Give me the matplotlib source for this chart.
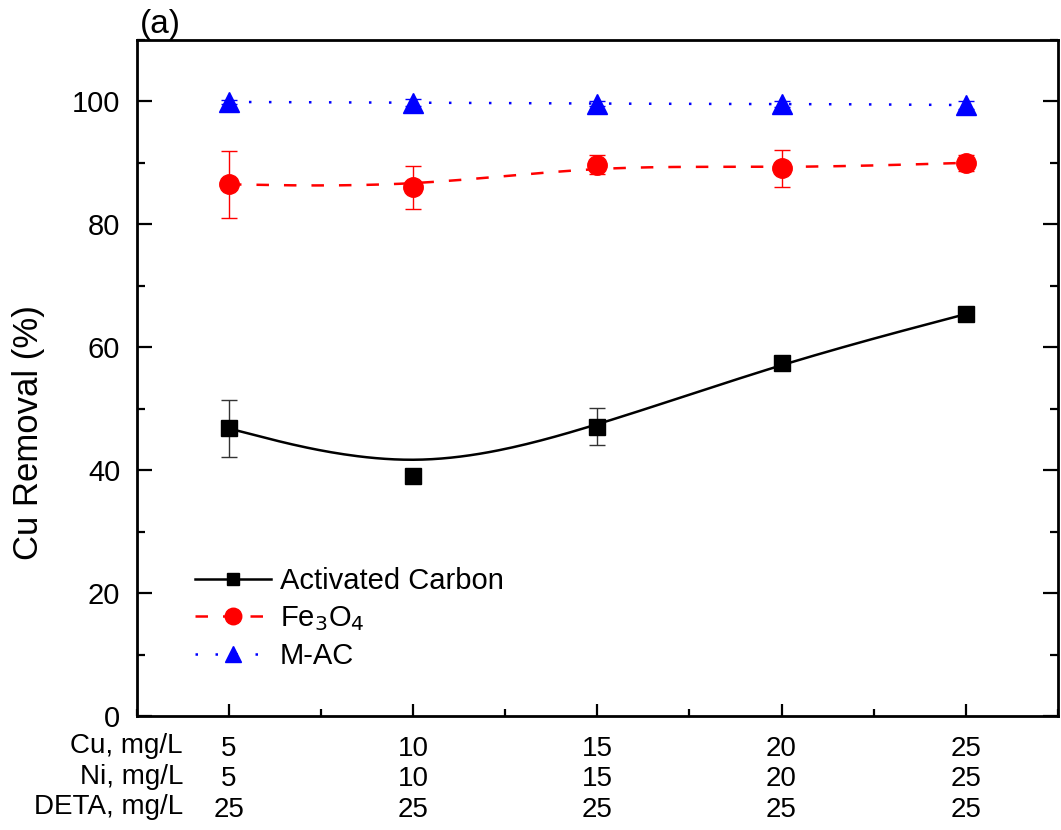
import numpy as np
import matplotlib
matplotlib.use("Agg")
import matplotlib.pyplot as plt
from matplotlib.lines import Line2D
from matplotlib.ticker import MultipleLocator

plt.rcParams['font.family'] = ['Liberation Sans', 'DejaVu Sans']

# data
x = [5, 10, 15, 20, 25]
cu_labels = ['5', '10', '15', '20', '25']
ni_labels = ['5', '10', '15', '20', '25']
deta_labels = ['25', '25', '25', '25', '25']
row_names = ['Cu, mg/L', 'Ni, mg/L', 'DETA, mg/L']

ac = [46.8, 39.1, 47.1, 57.5, 65.4]
ac_err = [4.7, 0.0, 3.0, 0.9, 0.3]
fe = [86.5, 86.0, 89.7, 89.1, 90.0]
fe_err = [5.5, 3.5, 1.5, 3.0, 1.3]
mac = [99.9, 99.8, 99.6, 99.6, 99.4]
mac_err = [0.3, 0.5, 0.4, 0.5, 0.6]


def bspline(xs, ys, n=40):
    # uniform cubic B-spline, end points tripled so the curve starts/ends on them
    px = np.r_[xs[0], xs[0], xs, xs[-1], xs[-1]].astype(float)
    py = np.r_[ys[0], ys[0], ys, ys[-1], ys[-1]].astype(float)
    t = np.linspace(0, 1, n)
    b0 = (1 - t) ** 3 / 6
    b1 = (3 * t**3 - 6 * t**2 + 4) / 6
    b2 = (-3 * t**3 + 3 * t**2 + 3 * t + 1) / 6
    b3 = t**3 / 6
    cx, cy = [], []
    for i in range(len(px) - 3):
        cx.append(b0 * px[i] + b1 * px[i + 1] + b2 * px[i + 2] + b3 * px[i + 3])
        cy.append(b0 * py[i] + b1 * py[i + 1] + b2 * py[i + 2] + b3 * py[i + 3])
    return np.concatenate(cx), np.concatenate(cy)


fig = plt.figure(figsize=(10.61, 8.3), dpi=100)
ax = fig.add_axes([0.129, 0.137, 0.868, 0.815])

series = [
    (ac, ac_err, 'black', '-', 's', 11, 'Activated Carbon', '#333333'),
    (fe, fe_err, 'red', (0, (5, 6)), 'o', 14, 'Fe$_3$O$_4$', 'red'),
    (mac, mac_err, 'blue', (0, (1, 7)), '^', 14, 'M-AC', 'blue'),
]
handles = []
for ys, err, col, ls, mk, ms, lab, ecol in series:
    sx, sy = bspline(x, ys)
    ax.plot(sx, sy, color=col, ls=ls, lw=1.8, zorder=2)
    ax.errorbar(x, ys, yerr=err, fmt=mk, color=col, ms=ms, ecolor=ecol,
                elinewidth=1.0, capsize=5.5, capthick=1.0, zorder=3)
    handles.append(Line2D([], [], color=col, ls=ls, lw=1.8, marker=mk, ms=ms * 0.85, label=lab))

ax.set_xlim(2.5, 27.5)
ax.set_ylim(0, 110)
ax.set_xticks(x)
ax.set_xticklabels(['\n'.join(r) for r in zip(cu_labels, ni_labels, deta_labels)],
                   fontsize=20, linespacing=1.22)
ax.xaxis.set_minor_locator(MultipleLocator(2.5))
ax.set_yticks([0, 20, 40, 60, 80, 100])
ax.yaxis.set_minor_locator(MultipleLocator(10))
ax.tick_params(axis='y', which='both', direction='in', left=True, right=True, labelsize=21, pad=12)
ax.tick_params(axis='y', which='major', length=11, width=1.6)
ax.tick_params(axis='y', which='minor', length=6, width=1.6)
ax.tick_params(axis='x', which='both', direction='in', top=False, pad=14)
ax.tick_params(axis='x', which='major', length=9, width=1.6)
ax.tick_params(axis='x', which='minor', length=5, width=1.6)
for sp in ax.spines.values():
    sp.set_linewidth(2)

ax.set_ylabel('Cu Removal (%)', fontsize=25)
ax.yaxis.set_label_coords(-0.1, 0.42)

# row titles for the three tick-label lines
ax.text(0.05, -0.025, '\n'.join(row_names), transform=ax.transAxes, ha='right', va='top',
        fontsize=20, linespacing=1.22, multialignment='right')

ax.text(0.003, 1.0, '(a)', transform=ax.transAxes, ha='left', va='bottom', fontsize=24)

ax.legend(handles=handles, loc='lower left', bbox_to_anchor=(0.035, 0.03), frameon=False,
          fontsize=21, handlelength=2.6, labelspacing=0.3, handletextpad=0.3)

fig.savefig('out.png', dpi=100)
